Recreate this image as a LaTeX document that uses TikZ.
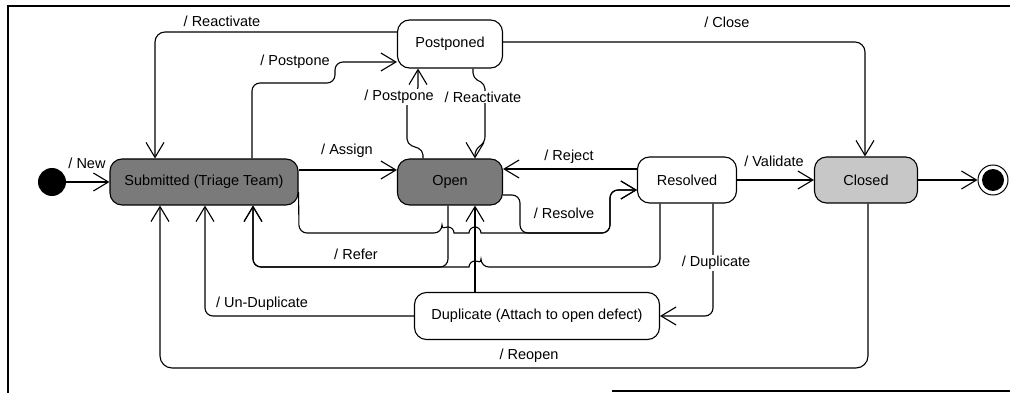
\documentclass[tikz,border=0pt]{standalone}
\usepackage{fontspec}
\setmainfont{Liberation Sans}
\usetikzlibrary{arrows.meta}
\begin{document}
\begin{tikzpicture}[x=1pt,y=-1pt,
  txt/.style={font=\fontsize{14.5}{17}\selectfont},
  state/.style={txt,draw=black,line width=1.1pt,rounded corners=12pt,minimum height=46pt,inner sep=0pt,fill=white},
  darkstate/.style={state,fill=black!52},
  tr/.style={draw=black,line width=1.1pt,-{Straight Barb[length=15pt,width=18pt]},rounded corners=8pt},
  lbl/.style={txt,inner sep=1pt},
  lblw/.style={lbl,fill=white},
]
\useasboundingbox (0,0) rectangle (1010,393);
% frame
\draw[line width=1.3pt] (8,393) -- (8,6) -- (1010,6);
\draw[line width=1.3pt] (612,391) -- (1010,391);

% states
\node[circle,fill=black,minimum size=28pt,inner sep=0pt] (init) at (52,182) {};
\node[darkstate,minimum width=188pt] (sub) at (204,182) {Submitted (Triage Team)};
\node[darkstate,minimum width=105pt] (open) at (450,182) {Open};
\node[state,minimum width=105pt,minimum height=48pt] (post) at (450,44) {Postponed};
\node[state,minimum width=99pt] (res) at (687,180) {Resolved};
\node[state,fill=black!22,minimum width=103pt] (closed) at (866,180) {Closed};
\node[circle,draw=black,line width=1pt,minimum size=30pt,inner sep=0pt] (fin) at (993,180) {};
\fill[black] (fin.center) circle (11pt);
\node[state,minimum width=245pt,minimum height=47pt] (dup) at (537,316) {Duplicate (Attach to open defect)};

% transitions
\draw[tr] (init) -- (sub);
\node[lbl] (lnew) at (87,163) {/ New};

\draw[tr] ([yshift=12pt]sub.east) -- ([yshift=12pt]sub.east -| open.west);
\node[lbl] (lassign) at (347,151) {/ Assign};

\draw[tr] ([yshift=11pt]res.west) -- ([yshift=11pt]res.west -| open.east);
\node[lbl] (lreject) at (569,157) {/ Reject};

\draw[tr] ([yshift=-13pt]open.east) -- (520,195) -- (520,233) -- (610,233) -- (610,190) -- ([yshift=-10pt]res.west);
\draw[tr] ([yshift=-10pt]sub.east) -- (299,233) -- (442,233) [sharp corners]
  arc[start angle=180,end angle=0,radius=6pt] -- (469,233)
  arc[start angle=180,end angle=0,radius=6pt] [rounded corners=8pt] -- (610,233) -- (610,190) -- ([yshift=-10pt]res.west);
\node[lbl] (lresolve) at (564,213) {/ Resolve};

\draw[tr] (res) -- (closed);
\node[lbl] (lvalidate) at (774,161) {/ Validate};

\draw[tr] (closed) -- (fin);

\draw[tr,rounded corners=10pt] ([yshift=2pt]post.east) -| ([xshift=-1pt]closed.north);
\node[lbl] (lclose) at (727,22) {/ Close};

\draw[tr,rounded corners=10pt] ([yshift=12pt]post.west) -| ([xshift=-49pt]sub.north);
\node[lbl] (lreact1) at (222,21) {/ Reactivate};

\draw[tr] ([xshift=48pt]sub.north) -- (252,83) -- (335,83) -- (335,62) -- ([yshift=-18pt]post.west);
\node[lbl] (lpost1) at (295,62) {/ Postpone};

\draw[tr,rounded corners=5pt] ([xshift=-27pt]open.north) -- (423,150) -- (407,144) -- (407,97) -- (418,92) -- ([xshift=-32pt]post.south);
\node[lblw] (lpost2) at (399,97) {/ Postpone};

\draw[tr,rounded corners=5pt] ([xshift=23pt]post.south) -- (473,78) -- (485,84) -- (485,142) -- (475,150) -- ([xshift=25pt]open.north);
\node[lblw] (lreact2) at (483,97) {/ Reactivate};

\draw[tr] ([xshift=-2pt]open.south) -- (448,267) -- (253,267) -- ([xshift=49pt]sub.south);
\draw[tr] ([xshift=-27pt]res.south) -- (660,267) -- (481,267) [sharp corners]
  arc[start angle=0,end angle=180,radius=6pt] [rounded corners=8pt] -- (253,267) -- ([xshift=49pt]sub.south);
\node[lbl] (lrefer) at (356,254) {/ Refer};

\draw[tr] ([xshift=26pt]res.south) |- (dup.east);
\node[lblw] (ldup) at (716,263) {/ Duplicate};

\draw[tr] ([xshift=-62pt]dup.north) -- ([xshift=25pt]open.south);

\draw[tr] (dup.west) -| ([xshift=1pt]sub.south);
\node[lbl] (lundup) at (262,304) {/ Un-Duplicate};

\draw[tr,rounded corners=12pt] ([xshift=2pt]closed.south) |- (160,368) -- ([xshift=-44pt]sub.south);
\node[lbl] (lreopen) at (529,356) {/ Reopen};
\end{tikzpicture}
\end{document}
